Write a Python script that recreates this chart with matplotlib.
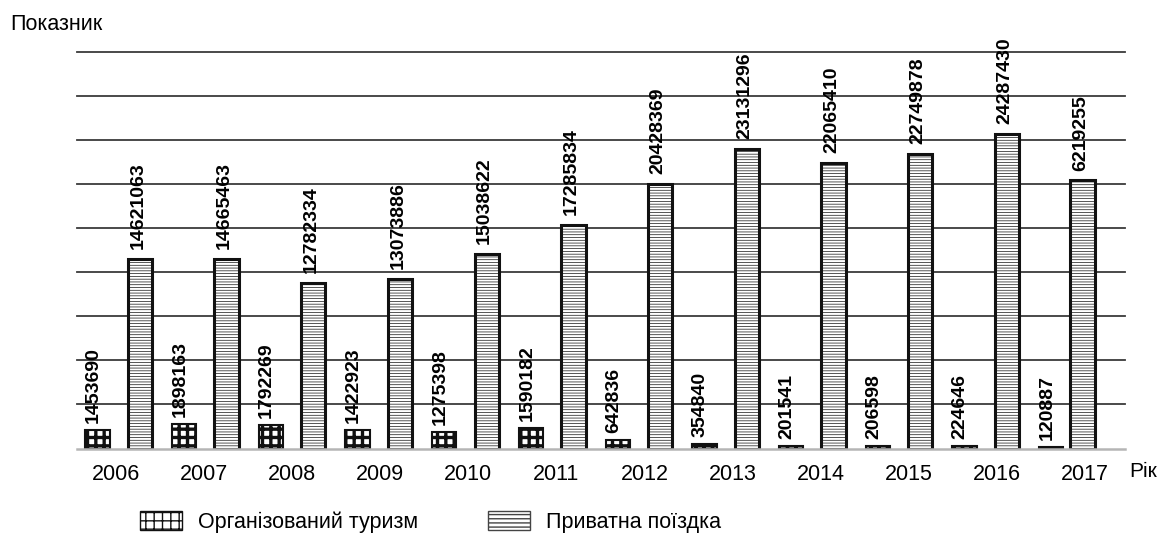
import matplotlib
matplotlib.use("Agg")
import matplotlib.patches as mpatches
import matplotlib.pyplot as plt
import numpy as np

plt.rcParams["font.family"] = ["Liberation Sans", "DejaVu Sans"]

# ── Data ──────────────────────────────────────────────────────────────
years = ["2006", "2007", "2008", "2009", "2010", "2011",
         "2012", "2013", "2014", "2015", "2016", "2017"]
organized = [1453690, 1898163, 1792269, 1422923, 1275398, 1590182,
             642836, 354840, 201541, 206598, 224646, 120887]
private = [14621063, 14665463, 12782334, 13073886, 15038622, 17285834,
           20428369, 23131296, 22065410, 22749878, 24287430, 20700000]
# the 2017 bar in the source is drawn ~20.7M tall but labelled 6219255
private_labels = ["14621063", "14665463", "12782334", "13073886", "15038622",
                  "17285834", "20428369", "23131296", "22065410", "22749878",
                  "24287430", "6219255"]
grid_step = 3_400_000
n_grid = 9

# ── Figure ────────────────────────────────────────────────────────────
fig = plt.figure(figsize=(11.59, 5.34), dpi=100)
ax = fig.add_axes([0.0664, 0.1601, 0.9043, 0.742])

x = np.arange(len(years), dtype=float)
width = 0.28
org_x = x
priv_x = x + 0.49
priv_x[-1] -= 0.13          # last column sits a bit to the left in the source
tick_x = x * 1.016 + 0.213  # year labels are spaced slightly wider than bars

# gridlines behind bars
for k in range(1, n_grid + 1):
    ax.axhline(k * grid_step, color="#3a3a3a", linewidth=1.3, zorder=0, clip_on=False)

org_bars = ax.bar(org_x, organized, width=width, color="white", edgecolor="#111111",
                  linewidth=1.5, hatch="++", zorder=2)
priv_bars = ax.bar(priv_x, private, width=width, color="white", edgecolor="#111111",
                   linewidth=2.2, hatch="------", zorder=2)
for b in org_bars:
    if hasattr(b, "set_hatch_linewidth"):
        b.set_hatch_linewidth(2.4)
for b in priv_bars:
    if hasattr(b, "set_hatch_linewidth"):
        b.set_hatch_linewidth(0.5)

# value labels
lab_kw = dict(textcoords="offset points", rotation=90, ha="center", va="bottom",
              fontsize=14, fontweight="bold", zorder=3, annotation_clip=False)
for xi, val in zip(org_x, organized):
    ax.annotate(str(val), (xi, val), xytext=(-3, 5), **lab_kw)
for xi, val, lab in zip(priv_x, private, private_labels):
    ax.annotate(lab, (xi, val), xytext=(-1.5, 7), **lab_kw)

ax.set_xlim(-0.236, 11.851)
ax.set_ylim(0, n_grid * grid_step)
ax.set_xticks(tick_x)
ax.set_xticklabels(years, fontsize=15.5)
ax.tick_params(axis="x", length=0, pad=11)
ax.set_yticks([])
for side in ["top", "right", "left"]:
    ax.spines[side].set_visible(False)
ax.spines["bottom"].set_color("#b5b5b5")
ax.spines["bottom"].set_linewidth(1.8)

fig.text(0.009, 0.955, "Показник", fontsize=15.5, ha="left", va="center")
fig.text(0.9745, 0.117, "Рік", fontsize=15, ha="left", va="center")

# legend
org_patch = mpatches.Patch(facecolor="white", edgecolor="#111111", hatch="++",
                           label="Організований туризм")
priv_patch = mpatches.Patch(facecolor="white", edgecolor="#444444", hatch="----",
                            label="Приватна поїздка")
if hasattr(org_patch, "set_hatch_linewidth"):
    org_patch.set_hatch_linewidth(2.4)
    priv_patch.set_hatch_linewidth(0.6)
fig.legend(handles=[org_patch, priv_patch], loc="center left",
           bbox_to_anchor=(0.1208, 0.023), ncol=2, frameon=False, fontsize=15.5,
           handlelength=1.95, handleheight=1.0, handletextpad=0.75, columnspacing=3.25,
           borderpad=0, borderaxespad=0)

fig.savefig("out.png", dpi=100)
